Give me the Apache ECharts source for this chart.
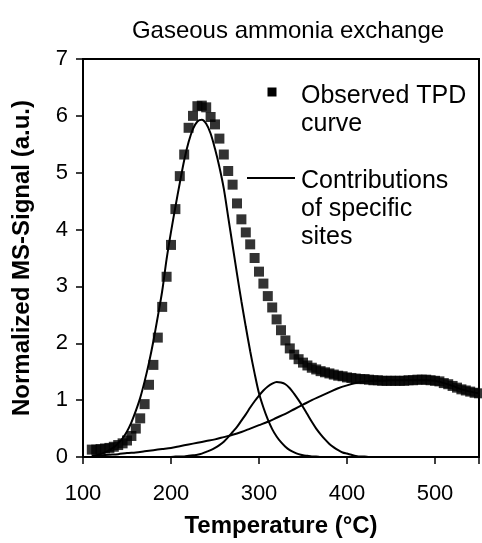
<!DOCTYPE html>
<html>
<head>
<meta charset="utf-8">
<script src="https://cdn.jsdelivr.net/npm/echarts@6/dist/echarts.min.js"></script>
<style>html,body{margin:0;padding:0;background:#fff;}#c{width:482px;height:543px;}</style>
</head>
<body>
<div id="c"></div>
<script>
// ---- Data ----
const titleText = 'Gaseous ammonia exchange';
const xName = 'Temperature (°C)';
const yName = 'Normalized MS-Signal (a.u.)';
const legendObserved = 'Observed TPD\ncurve';
const legendContrib = 'Contributions\nof specific\nsites';

// Observed TPD curve (squares), every 5 °C from 110 to 550
const observedTemp = [110,115,120,125,130,135,140,145,150,155,160,165,170,175,180,185,190,195,200,205,
  210,215,220,225,230,235,240,245,250,255,260,265,270,275,280,285,290,295,300,305,
  310,315,320,325,330,335,340,345,350,355,360,365,370,375,380,385,390,395,400,405,
  410,415,420,425,430,435,440,445,450,455,460,465,470,475,480,485,490,495,500,505,
  510,515,520,525,530,535,540,545,550];
const observedSignal = [0.13,0.13,0.14,0.15,0.16,0.18,0.21,0.24,0.29,0.37,0.50,0.68,0.93,1.27,1.62,2.10,2.64,3.17,3.73,4.36,
  4.94,5.32,5.79,6.00,6.17,6.18,6.15,5.98,5.85,5.60,5.32,5.03,4.79,4.46,4.18,3.95,3.74,3.50,3.26,3.05,
  2.83,2.63,2.42,2.23,2.05,1.91,1.80,1.72,1.66,1.61,1.57,1.54,1.51,1.49,1.47,1.45,1.43,1.42,1.40,1.39,
  1.38,1.37,1.37,1.36,1.35,1.35,1.34,1.34,1.34,1.34,1.34,1.34,1.35,1.35,1.36,1.36,1.36,1.35,1.34,1.33,
  1.30,1.28,1.25,1.22,1.19,1.17,1.15,1.13,1.12];

// Contribution of site 1 (low-temperature peak)
const site1Temp = [110,115,120,125,130,135,140,145,150,155,160,165,170,175,180,185,190,195,200,205,
  210,215,220,225,230,235,240,245,250,255,260,265,270,275,280,285,290,295,300,305,
  310,315,320,325,330,335,340,345,350,355,360,365,370,375,380];
const site1Signal = [0.02,0.03,0.05,0.08,0.12,0.17,0.24,0.33,0.45,0.61,0.81,1.04,1.33,1.66,2.04,2.47,2.92,3.48,3.96,4.40,
  4.82,5.22,5.54,5.77,5.90,5.93,5.86,5.69,5.42,5.10,4.72,4.22,3.72,3.22,2.74,2.29,1.86,1.47,1.12,0.87,
  0.66,0.49,0.36,0.26,0.18,0.12,0.08,0.05,0.03,0.02,0.01,0.01,0.00,0.00,0.00];

// Contribution of site 2 (medium-temperature peak)
const site2Temp = [200,205,210,215,220,225,230,235,240,245,250,255,260,265,270,275,280,285,290,295,
  300,305,310,315,320,325,330,335,340,345,350,355,360,365,370,375,380,385,390,395,
  400,405,410,415,420,425,430,435,440];
const site2Signal = [0.00,0.01,0.01,0.01,0.02,0.03,0.04,0.06,0.09,0.12,0.16,0.21,0.27,0.35,0.44,0.53,0.64,0.75,0.87,0.98,
  1.08,1.17,1.24,1.29,1.32,1.31,1.28,1.21,1.11,1.00,0.88,0.75,0.62,0.50,0.40,0.31,0.23,0.17,0.12,0.08,
  0.06,0.04,0.02,0.01,0.01,0.00,0.00,0.00,0.00];

// Contribution of site 3 (broad high-temperature peak)
const site3Temp = [110,120,130,140,150,160,170,180,190,200,210,220,230,240,250,260,270,280,290,300,
  310,320,330,340,350,360,370,380,390,400,410,420,430,440,450,460,470,480,490,500,
  510,520,530,540,550];
const site3Signal = [0.02,0.03,0.04,0.05,0.07,0.08,0.10,0.12,0.14,0.16,0.19,0.22,0.25,0.28,0.31,0.35,0.39,0.44,0.50,0.56,
  0.62,0.69,0.76,0.84,0.92,1.00,1.07,1.14,1.21,1.26,1.30,1.33,1.34,1.34,1.35,1.35,1.35,1.35,1.35,1.34,
  1.30,1.25,1.19,1.15,1.12];

const xTicks = [100, 200, 300, 400, 500];
const yTicks = [0, 1, 2, 3, 4, 5, 6, 7];

// ---- Chart ----
const zip = (xs, ys) => xs.map((x, i) => [x, ys[i]]);
const FONT = "'Liberation Sans', Arial, Helvetica, sans-serif";

const chart = echarts.init(document.getElementById('c'), null, { renderer: 'canvas' });

const lineStyle = { color: '#000', width: 2 };
const siteSeries = [site1Signal, site2Signal, site3Signal].map((vals, i) => ({
  name: legendContrib,
  type: 'line',
  data: zip([site1Temp, site2Temp, site3Temp][i], vals),
  smooth: 0.3,
  showSymbol: false,
  symbol: 'none',
  lineStyle: lineStyle,
  z: 2
}));

chart.setOption({
  animation: false,
  backgroundColor: '#fff',
  title: {
    text: titleText,
    left: 283,
    top: 14,
    textAlign: 'center',
    textStyle: { fontFamily: FONT, fontSize: 24, fontWeight: 'normal', color: '#000' }
  },
  grid: {
    left: 83, right: 1, top: 59, bottom: 86,
    show: true, borderColor: '#000', borderWidth: 2, backgroundColor: 'transparent'
  },
  xAxis: {
    type: 'value',
    min: 100, max: 550, interval: 100,
    name: xName,
    nameLocation: 'middle',
    nameGap: 57,
    nameTextStyle: { fontFamily: FONT, fontSize: 24, fontWeight: 'bold', color: '#000' },
    axisLine: { show: true, onZero: false, lineStyle: { color: '#000', width: 2 } },
    axisTick: { show: true, inside: false, length: 7, lineStyle: { color: '#000', width: 1.5 } },
    axisLabel: {
      margin: 26,
      fontFamily: FONT, fontSize: 22, color: '#000',
      formatter: v => (xTicks.indexOf(v) >= 0 ? String(v) : '')
    },
    splitLine: { show: false }
  },
  yAxis: {
    type: 'value',
    min: 0, max: 7, interval: 1,
    name: yName,
    nameLocation: 'middle',
    nameGap: 49,
    nameTextStyle: { fontFamily: FONT, fontSize: 24, fontWeight: 'bold', color: '#000' },
    axisLine: { show: true, lineStyle: { color: '#000', width: 2 } },
    axisTick: { show: true, inside: false, length: 7, lineStyle: { color: '#000', width: 1.5 } },
    axisLabel: {
      margin: 15,
      fontFamily: FONT, fontSize: 22, color: '#000',
      formatter: v => (yTicks.indexOf(v) >= 0 ? String(v) : '')
    },
    splitLine: { show: false }
  },
  series: [
    {
      name: legendObserved,
      type: 'scatter',
      data: zip(observedTemp, observedSignal),
      symbol: 'rect',
      symbolSize: 10,
      itemStyle: { color: '#000' },
      z: 3
    }
  ].concat(siteSeries),
  graphic: [
    { type: 'rect', shape: { x: 267.5, y: 87.5, width: 9, height: 9 }, style: { fill: '#000' }, z: 10 },
    { type: 'text', x: 301, y: 82, style: { text: legendObserved, font: '25px ' + FONT, lineHeight: 28, fill: '#000', verticalAlign: 'top' }, z: 10 },
    { type: 'line', shape: { x1: 247, y1: 178, x2: 295, y2: 178 }, style: { stroke: '#000', lineWidth: 2 }, z: 10 },
    { type: 'text', x: 301, y: 167, style: { text: legendContrib, font: '25px ' + FONT, lineHeight: 28, fill: '#000', verticalAlign: 'top' }, z: 10 }
  ]
});
</script>
</body>
</html>
